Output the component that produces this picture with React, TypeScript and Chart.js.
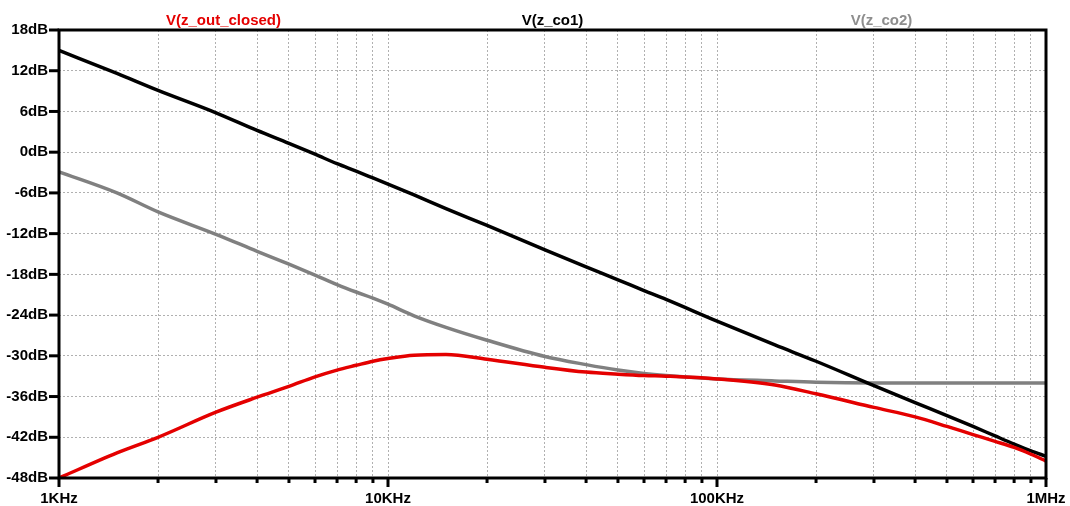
import React, { useEffect, useRef } from "react";
import { Chart, registerables } from "chart.js";

Chart.register(...registerables);

// Frequencies (Hz)
const FREQ = [
  1000, 1500, 2000, 3000, 4000, 5000, 6000, 7000, 8000, 9000,
  10000, 12000, 15000, 20000, 30000, 40000, 50000, 60000, 70000, 100000,
  150000, 200000, 300000, 400000, 500000, 600000, 700000, 800000, 900000, 1000000,
];

// V(z_out_closed) dB
const Z_OUT_CLOSED = [
  -48.0, -44.3, -42.0, -38.3, -36.1, -34.5, -33.1, -32.1, -31.4, -30.8,
  -30.4, -29.9, -29.8, -30.5, -31.7, -32.4, -32.7, -32.9, -33.0, -33.4,
  -34.3, -35.6, -37.6, -39.0, -40.4, -41.6, -42.6, -43.5, -44.5, -45.5,
];

// V(z_co1) dB
const Z_CO1 = [
  15.0, 11.6, 9.1, 5.8, 3.2, 1.3, -0.3, -1.7, -2.8, -3.8,
  -4.7, -6.3, -8.3, -10.8, -14.4, -16.9, -18.8, -20.4, -21.7, -24.9,
  -28.4, -30.8, -34.4, -36.9, -38.8, -40.4, -41.8, -43.0, -44.0, -44.8,
];

// V(z_co2) dB
const Z_CO2 = [
  -2.9, -6.0, -8.8, -12.1, -14.6, -16.5, -18.1, -19.5, -20.6, -21.5,
  -22.4, -24.1, -25.8, -27.7, -30.1, -31.3, -32.1, -32.6, -32.9, -33.4,
  -33.7, -33.9, -34.0, -34.0, -34.0, -34.0, -34.0, -34.0, -34.0, -34.0,
];

const SERIES_NAMES = ["V(z_out_closed)", "V(z_co1)", "V(z_co2)"];
const SERIES_COLORS = ["#e40000", "#000000", "#808080"];
const TITLE_COLORS = ["#e40000", "#000000", "#8e8e8e"];

const DECADES = [1000, 10000, 100000];
const MULTS = [1, 2, 3, 4, 5, 6, 7, 8, 9];
const X_MAJOR = [1000, 10000, 100000, 1000000];
const X_LABELS: Record<number, string> = {
  1000: "1KHz",
  10000: "10KHz",
  100000: "100KHz",
  1000000: "1MHz",
};
const Y_MIN = -48;
const Y_MAX = 18;
const Y_STEP = 6;

const X_TICKS: number[] = [];
DECADES.forEach((d) => MULTS.forEach((m) => X_TICKS.push(d * m)));
X_TICKS.push(1000000);

const FONT_FAMILY = "'Liberation Sans', Arial, Helvetica, sans-serif";

const framePlugin = {
  id: "frame",
  afterDraw(chart: any) {
    const { ctx, chartArea } = chart;
    const xs = chart.scales.x;
    const ys = chart.scales.y;
    const { left, right, top, bottom } = chartArea;
    ctx.save();
    ctx.strokeStyle = "#000";
    ctx.lineWidth = 3;
    ctx.lineCap = "butt";
    ctx.strokeRect(left, top, right - left, bottom - top);
    // y ticks
    ys.ticks.forEach((t: any) => {
      const y = ys.getPixelForValue(t.value);
      ctx.beginPath();
      ctx.moveTo(left - 10, y);
      ctx.lineTo(left, y);
      ctx.stroke();
    });
    // x ticks
    X_TICKS.forEach((v) => {
      const x = xs.getPixelForValue(v);
      const major = X_MAJOR.includes(v);
      ctx.beginPath();
      ctx.moveTo(x, bottom);
      ctx.lineTo(x, bottom + (major ? 9 : 5));
      ctx.stroke();
    });
    // series titles
    ctx.font = `bold 15px ${FONT_FAMILY}`;
    ctx.textAlign = "center";
    ctx.textBaseline = "alphabetic";
    const w = (right - left) / SERIES_NAMES.length;
    SERIES_NAMES.forEach((name, i) => {
      ctx.fillStyle = TITLE_COLORS[i];
      ctx.fillText(name, left + w * (i + 0.5), 25);
    });
    ctx.restore();
  },
};

export default function App() {
  const ref = useRef<HTMLCanvasElement | null>(null);

  useEffect(() => {
    if (!ref.current) return;
    const seriesData = [Z_OUT_CLOSED, Z_CO1, Z_CO2];
    const chart = new Chart(ref.current, {
      type: "line",
      data: {
        datasets: seriesData.map((arr, i) => ({
          label: SERIES_NAMES[i],
          data: FREQ.map((f, j) => ({ x: f, y: arr[j] })),
          borderColor: SERIES_COLORS[i],
          backgroundColor: SERIES_COLORS[i],
          borderWidth: 3.5,
          pointRadius: 0,
          cubicInterpolationMode: "monotone",
          fill: false,
        })),
      },
      options: {
        responsive: false,
        animation: false,
        events: [],
        layout: { autoPadding: false, padding: { top: 30, right: 24, left: 0, bottom: 0 } },
        plugins: {
          legend: { display: false },
          tooltip: { enabled: false },
          title: { display: false },
        },
        scales: {
          x: {
            type: "logarithmic",
            min: 1000,
            max: 1000000,
            afterBuildTicks: (scale: any) => {
              scale.ticks = X_TICKS.map((v) => ({ value: v }));
            },
            afterFit: (scale: any) => {
              scale.height = 28;
              scale.paddingLeft = 0;
              scale.paddingRight = 0;
            },
            grid: {
              color: "#b0b0b0",
              lineWidth: 1,
              drawTicks: false,
            },
            border: { display: false, dash: [2, 2] },
            ticks: {
              autoSkip: false,
              maxRotation: 0,
              minRotation: 0,
              padding: 12,
              color: "#000",
              font: { family: FONT_FAMILY, size: 15, weight: "bold" },
              callback: (value: any) => X_LABELS[Number(value)] ?? "",
            },
          },
          y: {
            type: "linear",
            min: Y_MIN,
            max: Y_MAX,
            afterFit: (scale: any) => {
              scale.width = 59;
              scale.paddingTop = 0;
              scale.paddingBottom = 0;
            },
            grid: {
              color: "#b0b0b0",
              lineWidth: 1,
              drawTicks: false,
            },
            border: { display: false, dash: [2, 2] },
            ticks: {
              stepSize: Y_STEP,
              padding: 11,
              color: "#000",
              font: { family: FONT_FAMILY, size: 15, weight: "bold" },
              callback: (value: any) => `${value}dB`,
            },
          },
        },
      },
      plugins: [framePlugin],
    });
    return () => chart.destroy();
  }, []);

  return (
    <div style={{ position: "fixed", left: 0, top: 0, width: 1070, height: 506, background: "#fff" }}>
      <canvas ref={ref} width={1070} height={506} style={{ display: "block" }} />
    </div>
  );
}
